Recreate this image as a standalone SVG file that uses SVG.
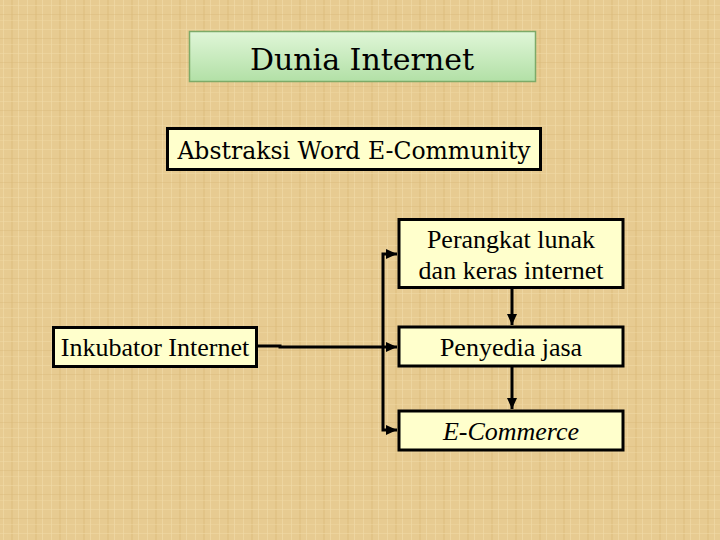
<svg xmlns="http://www.w3.org/2000/svg" width="720" height="540" viewBox="0 0 720 540">
<defs>
<linearGradient id="green" x1="0" y1="0" x2="0" y2="1">
<stop offset="0" stop-color="#E0F6D8"/>
<stop offset="1" stop-color="#B2E0A6"/>
</linearGradient>
<pattern id="linen" width="24" height="24" patternUnits="userSpaceOnUse">
<rect width="24" height="24" fill="#E7CB91"/>
<rect x="3" width="1" height="24" fill="#F2DCA8" opacity="0.6"/>
<rect x="11" width="2" height="24" fill="#D9B977" opacity="0.4"/>
<rect x="18" width="1" height="24" fill="#F4E0B0" opacity="0.5"/>
<rect y="5" width="24" height="1" fill="#F2DCA8" opacity="0.5"/>
<rect y="14" width="24" height="1" fill="#D6B574" opacity="0.35"/>
<rect y="20" width="24" height="1" fill="#F0D9A4" opacity="0.4"/>
</pattern>
<marker id="arrow" markerWidth="11" markerHeight="10" refX="11" refY="5" orient="auto" markerUnits="userSpaceOnUse">
<path d="M0,0 L11,5 L0,10 Z" fill="#000"/>
</marker>
<style>
.box{fill:#FFFFCC;stroke:#000;stroke-width:3}
.cam{font-family:"DejaVu Serif","Liberation Serif",serif;fill:#000}
.tnr{font-family:"Liberation Serif","Times New Roman",serif;font-size:26px;fill:#000}
.conn{fill:none;stroke:#000;stroke-width:3}
</style>
</defs>
<rect width="720" height="540" fill="url(#linen)"/>
<g id="dunia-internet">
<rect x="189.5" y="31.5" width="346" height="50" fill="url(#green)" stroke="#7DAA68" stroke-width="1.5"/>
<text class="cam" x="362" y="70" font-size="30" text-anchor="middle">Dunia Internet</text>
</g>
<g id="abstraksi">
<rect class="box" x="167.5" y="128.5" width="373" height="41"/>
<text class="cam" x="354" y="159" font-size="23.5" text-anchor="middle">Abstraksi Word E-Community</text>
</g>
<g id="perangkat">
<rect class="box" x="399" y="219.5" width="224" height="68"/>
<text class="tnr" x="511" y="248" text-anchor="middle">Perangkat lunak</text>
<text class="tnr" x="511" y="279" text-anchor="middle">dan keras internet</text>
</g>
<g id="inkubator">
<rect class="box" x="53.5" y="327.5" width="203" height="39"/>
<text class="tnr" x="155" y="356" text-anchor="middle">Inkubator Internet</text>
</g>
<g id="penyedia">
<rect class="box" x="399" y="327" width="224" height="39"/>
<text class="tnr" x="511" y="356" text-anchor="middle">Penyedia jasa</text>
</g>
<g id="ecommerce">
<rect class="box" x="399" y="411" width="224" height="39"/>
<text class="tnr" x="511" y="440" text-anchor="middle" font-style="italic">E-Commerce</text>
</g>
<g id="connectors">
<path class="conn" d="M257,346 L280,346 L280,347 L397,347" marker-end="url(#arrow)"/>
<path class="conn" d="M383,347 L383,254 L397,254" marker-end="url(#arrow)"/>
<path class="conn" d="M383,347 L383,430 L397,430" marker-end="url(#arrow)"/>
<path class="conn" d="M512,289 L512,325" marker-end="url(#arrow)"/>
<path class="conn" d="M512,367 L512,409" marker-end="url(#arrow)"/>
</g>
</svg>
